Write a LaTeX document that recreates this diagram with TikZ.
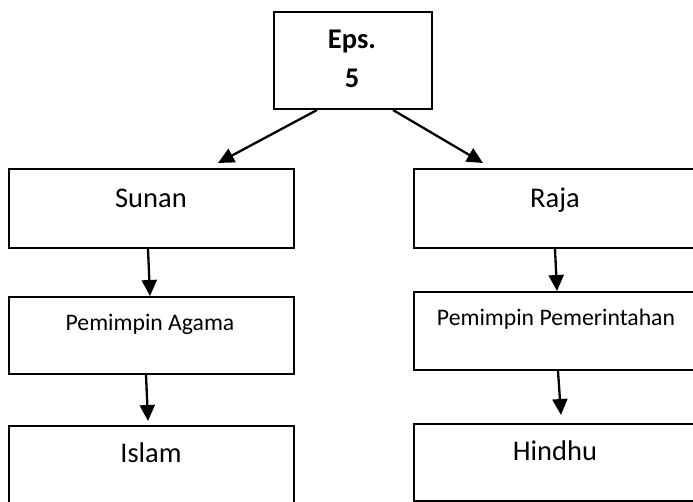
\documentclass[tikz,border=0pt]{standalone}
\usepackage{fontspec}
\setmainfont{Carlito}
\usetikzlibrary{arrows.meta}
\begin{document}
\begin{tikzpicture}[x=1pt,y=-1pt,
  box/.style={draw=black,line width=2pt,inner sep=0pt,anchor=north west,fill=white},
  big/.style={font=\fontsize{28.5}{34}\selectfont,anchor=base,inner sep=0pt},
  small/.style={font=\fontsize{23.7}{28}\selectfont,anchor=base,inner sep=0pt},
  link/.style={line width=2.3pt,-{Triangle[length=16pt,width=15pt]}}]
\useasboundingbox (0,0) rectangle (693,501);
\clip (0,0) rectangle (693,501);

% boxes
\node[box,minimum width=158pt,minimum height=97pt] (eps) at (273,11) {};
\node[box,minimum width=285pt,minimum height=79pt] (sunan) at (8,168) {};
\node[box,minimum width=310pt,minimum height=79pt] (raja) at (413,168) {};
\node[box,minimum width=285pt,minimum height=77pt] (agama) at (8,296) {};
\node[box,minimum width=310pt,minimum height=78pt] (pemer) at (413,291) {};
\node[box,minimum width=285pt,minimum height=82pt] (islam) at (8,425) {};
\node[box,minimum width=310pt,minimum height=77pt] (hindhu) at (413,423) {};

% labels
\node[big] (epsA) at (352,48) {\bfseries Eps.};
\node[big] (epsB) at (352,87) {\bfseries 5};
\node[big] (tSunan) at (151,207) {Sunan};
\node[big] (tRaja) at (555,207) {Raja};
\node[small] (tAgama) at (150,330) {Pemimpin Agama};
\node[small] (tPemer) at (556,325) {Pemimpin Pemerintahan};
\node[big] (tIslam) at (151,462) {Islam};
\node[big] (tHindhu) at (555,460) {Hindhu};

% connectors
\draw[link] ([xshift=44pt]eps.south west) -- ([xshift=210pt,yshift=5pt]sunan.north west);
\draw[link] ([xshift=120pt]eps.south west) -- ([xshift=70pt,yshift=5pt]raja.north west);
\draw[link] ([xshift=140pt]sunan.south west) -- ([xshift=142pt]agama.north west);
\draw[link] ([xshift=138pt]agama.south west) -- ([xshift=140pt,yshift=4pt]islam.north west);
\draw[link] ([xshift=142pt]raja.south west) -- ([xshift=144pt]pemer.north west);
\draw[link] ([xshift=145pt]pemer.south west) -- ([xshift=148pt,yshift=8pt]hindhu.north west);
\end{tikzpicture}
\end{document}
